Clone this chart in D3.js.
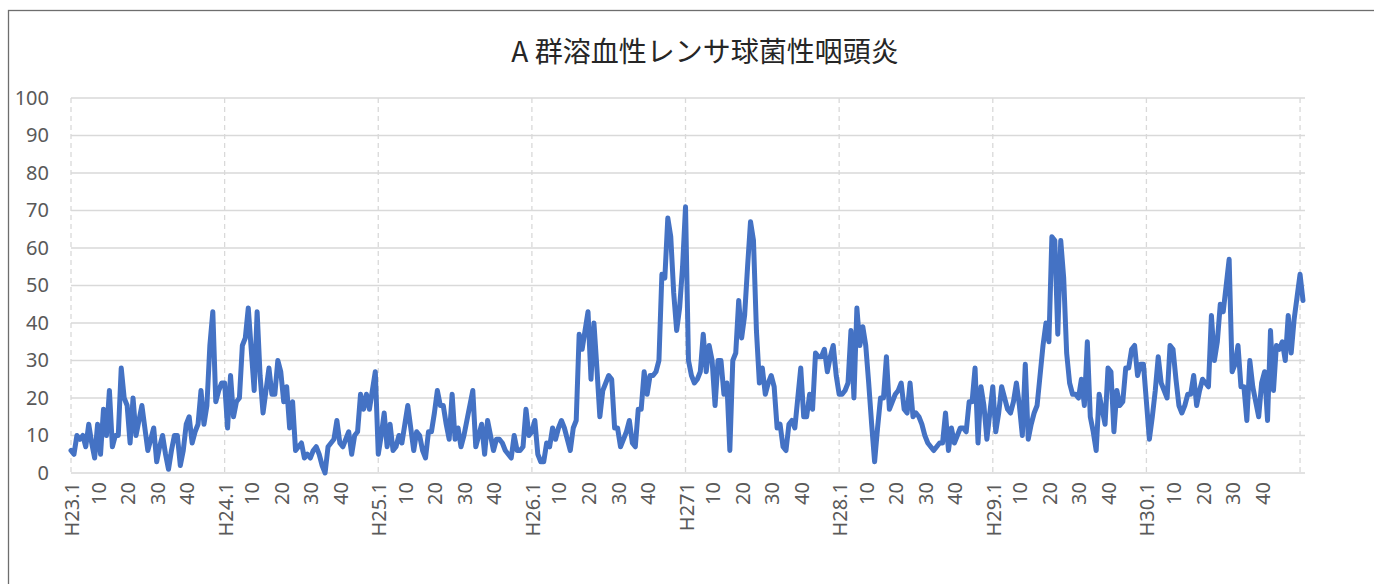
<!DOCTYPE html>
<html>
<head>
<meta charset="utf-8">
<script src="https://cdn.jsdelivr.net/npm/d3@7"></script>
<style>
  body { margin: 0; background: #fff; }
  svg text { font-family: "Noto Sans", "Open Sans", sans-serif; }
</style>
</head>
<body>
<div id="chart"></div>
<script>
// weekly reports per sentinel site, one list per year
var h23 = [6, 5, 10, 9, 10, 7, 13, 8, 4, 13, 5, 17, 10, 22, 7, 10, 10, 28, 20, 18, 8, 20, 10, 14, 18, 12,
           6, 9, 12, 3, 7, 10, 5, 1, 6, 10, 10, 2, 6, 13, 15, 8, 11, 13, 22, 13, 18, 34, 43, 19, 22, 24];
var h24 = [24, 12, 26, 15, 19, 20, 34, 36, 44, 33, 22, 43, 26, 16, 22, 28, 21, 21, 30, 27, 19, 23, 12, 19, 6, 7,
           8, 4, 5, 4, 6, 7, 5, 2, 0, 7, 8, 9, 14, 8, 7, 9, 11, 5, 10, 11, 21, 17, 21, 17, 22, 27];
var h25 = [5, 10, 16, 7, 13, 6, 7, 10, 8, 13, 18, 12, 6, 11, 10, 6, 4, 11, 11, 16, 22, 18, 18, 13, 9, 21,
           9, 12, 7, 10, 14, 18, 22, 7, 10, 13, 5, 14, 10, 6, 9, 9, 8, 6, 5, 4, 10, 6, 6, 7, 17, 10];
var h26 = [11, 14, 5, 3, 3, 8, 7, 12, 9, 12, 14, 12, 9, 6, 12, 14, 37, 33, 38, 43, 25, 40, 28, 15, 22, 24,
           26, 25, 12, 12, 7, 9, 11, 14, 8, 7, 17, 17, 27, 21, 26, 26, 27, 30, 53, 52, 68, 63, 48, 38, 44, 55];
var h27 = [71, 30, 26, 24, 25, 27, 37, 27, 34, 30, 18, 30, 30, 21, 24, 6, 30, 32, 46, 36, 42, 55, 67, 62, 38, 24,
           28, 21, 24, 26, 23, 12, 13, 7, 6, 13, 14, 12, 20, 28, 15, 15, 21, 17, 32, 31, 31, 33, 27, 31, 34, 26];
var h28 = [21, 21, 22, 24, 38, 20, 44, 34, 39, 34, 24, 13, 3, 12, 20, 20, 31, 17, 19, 21, 22, 24, 17, 16, 24, 15,
           16, 15, 13, 10, 8, 7, 6, 7, 8, 8, 16, 6, 12, 8, 10, 12, 12, 11, 19, 19, 28, 8, 23, 18, 9, 16];
var h29 = [23, 11, 16, 23, 20, 17, 16, 19, 24, 18, 10, 29, 9, 13, 16, 18, 26, 34, 40, 35, 63, 62, 37, 62, 52, 32,
           24, 21, 21, 20, 25, 18, 35, 15, 11, 6, 21, 17, 13, 28, 27, 11, 22, 18, 19, 28, 28, 33, 34, 26, 29, 29];
var h30 = [19, 9, 15, 22, 31, 24, 22, 20, 34, 33, 25, 18, 16, 18, 21, 21, 26, 18, 22, 25, 24, 23, 42, 30, 35, 45,
           43, 50, 57, 27, 29, 34, 23, 23, 14, 30, 23, 19, 15, 24, 27, 14, 38, 22, 34, 33, 35, 30, 42, 32, 41, 47, 53, 46];

// category labels
var yearLabels = ["H23.1", "H24.1", "H25.1", "H26.1", "H271", "H28.1", "H29.1", "H30.1"];
var weekLabels = ["10", "20", "30", "40"];
var weekTickWeeks = [10, 20, 30, 40];
var yTicks = [0, 10, 20, 30, 40, 50, 60, 70, 80, 90, 100];
var chartTitle = "A 群溶血性レンサ球菌性咽頭炎";

var years = [h23, h24, h25, h26, h27, h28, h29, h30];
var weeksPerYear = 52;

// flatten into one weekly series
var series = [];
years.forEach(function(yr) {
    yr.forEach(function(v) { series.push(v); });
});

// define svg area dimensions
var svgWidth = 1374;
var svgHeight = 584;

var margin = {
    top: 98,
    right: 71,
    bottom: 111,
    left: 71
};
var chartWidth = svgWidth - margin.left - margin.right;
var chartHeight = svgHeight - margin.top - margin.bottom;

var svg = d3.select("#chart")
    .append("svg")
    .attr("width", svgWidth)
    .attr("height", svgHeight);

// chart frame (runs off the right and bottom of the picture)
svg.append("rect")
    .attr("x", 8.5)
    .attr("y", 10.5)
    .attr("width", 1500)
    .attr("height", 700)
    .attr("fill", "none")
    .attr("stroke", "#6e6e6e")
    .attr("stroke-width", 1.3);

svg.append("text")
    .attr("x", 705)
    .attr("y", 62)
    .attr("text-anchor", "middle")
    .attr("font-size", "28px")
    .style("font-family", "'Noto Sans CJK JP', sans-serif")
    .attr("fill", "#262626")
    .text(chartTitle);

var chartGroup = svg.append("g")
    .attr("transform", `translate(${margin.left}, ${margin.top})`);

// scales
var xScale = d3.scaleLinear()
    .domain([0, series.length - 1])
    .range([0, chartWidth]);

var yScale = d3.scaleLinear()
    .domain([0, 100])
    .range([chartHeight, 0]);

// horizontal gridlines
chartGroup.append("g")
    .selectAll("line")
    .data(yTicks)
    .enter()
    .append("line")
    .attr("x1", 0)
    .attr("x2", chartWidth + 2)
    .attr("y1", d => yScale(d))
    .attr("y2", d => yScale(d))
    .attr("stroke", "#d9d9d9")
    .attr("stroke-width", 1.5);

// vertical dashed gridlines at each year start
var yearStarts = d3.range(0, years.length + 1).map(i => i * weeksPerYear);
chartGroup.append("g")
    .selectAll("line")
    .data(yearStarts)
    .enter()
    .append("line")
    .attr("x1", d => xScale(d))
    .attr("x2", d => xScale(d))
    .attr("y1", 0)
    .attr("y2", chartHeight)
    .attr("stroke", "#d9d9d9")
    .attr("stroke-width", 1.3)
    .attr("stroke-dasharray", "5,4");

// y axis labels
var leftAxis = d3.axisLeft(yScale)
    .tickValues(yTicks)
    .tickSize(0)
    .tickPadding(22);

var yAxis = chartGroup.append("g").call(leftAxis);
yAxis.select(".domain").remove();
yAxis.selectAll("text")
    .attr("font-size", "20px")
    .style("font-family", "'Noto Sans', sans-serif")
    .attr("fill", "#595959");

// x category labels: year start plus weeks 10..40
var xLabels = [];
yearLabels.forEach(function(lab, i) {
    xLabels.push({ idx: i * weeksPerYear, text: lab });
    weekTickWeeks.forEach(function(w, k) {
        xLabels.push({ idx: i * weeksPerYear + w - 1, text: weekLabels[k] });
    });
});

chartGroup.append("g")
    .selectAll("text")
    .data(xLabels)
    .enter()
    .append("text")
    .attr("transform", d => `translate(${xScale(d.idx) + 1}, ${chartHeight + 9}) rotate(-90)`)
    .attr("text-anchor", "end")
    .attr("dy", "0.35em")
    .attr("font-size", "20px")
    .attr("fill", "#595959")
    .text(d => d.text);

// the series line
var line = d3.line()
    .x((d, i) => xScale(i))
    .y(d => yScale(d));

chartGroup.append("path")
    .datum(series)
    .attr("d", line)
    .attr("fill", "none")
    .attr("stroke", "#4472c4")
    .attr("stroke-width", 5)
    .attr("stroke-linejoin", "round")
    .attr("stroke-linecap", "round");
</script>
</body>
</html>
